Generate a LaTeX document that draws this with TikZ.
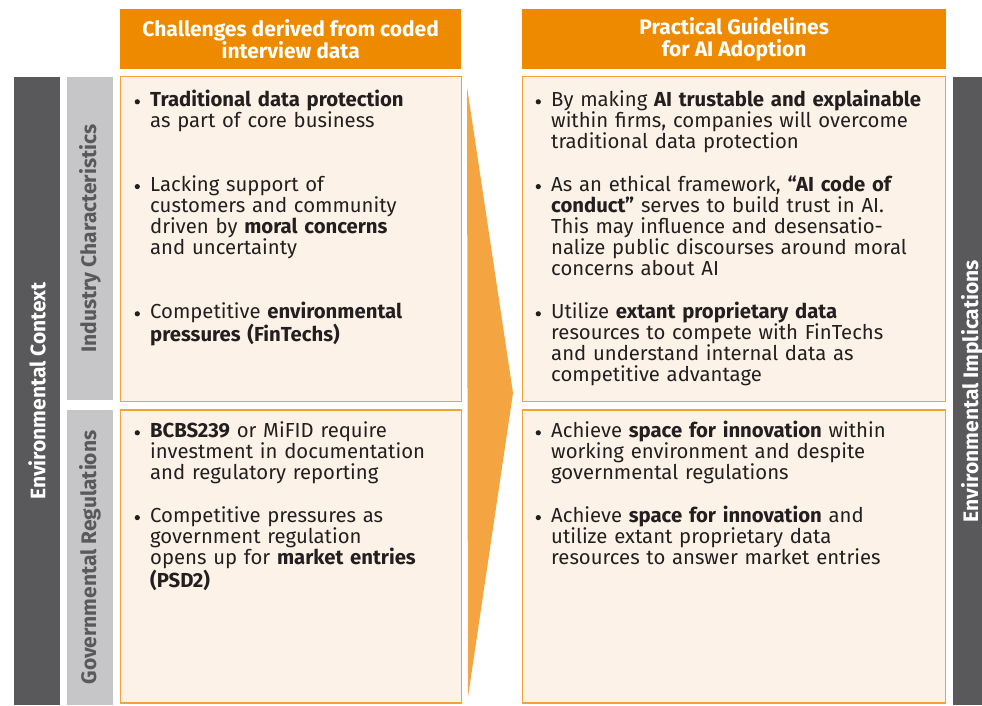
\documentclass[tikz,border=0pt]{standalone}
\usepackage{fontspec}
\setmainfont{Fira Sans}
\usetikzlibrary{positioning}

\definecolor{headorange}{HTML}{EE8A00}
\definecolor{boxline}{HTML}{F5A235}
\definecolor{boxfill}{HTML}{FDF2E7}
\definecolor{arroworange}{HTML}{F4A541}
\definecolor{darkbar}{HTML}{59595B}
\definecolor{lightbar}{HTML}{C6C6C8}
\definecolor{bodytext}{HTML}{231F20}

% bullet with hanging indent; lines inside a point are broken with \newline
\newcommand{\bpoint}{\par\hangindent=15.5pt\hangafter=1\noindent
  \makebox[15.5pt][l]{\tikz[baseline=-4.6pt]\fill[bodytext] (2.6pt,0) circle (2.6pt);}}
\newcommand{\gap}[1]{\par\vspace{#1}}

\tikzset{
  header/.style={
    fill=headorange,
    text=white,
    font=\fontsize{21}{21.5}\selectfont\bfseries,
    align=center,
    inner sep=0pt,
    minimum height=60pt,
    anchor=north west
  },
  infobox/.style={
    draw=boxline,
    line width=1.4pt,
    fill=boxfill,
    inner sep=0pt,
    anchor=south west
  },
  bullets/.style={
    text=bodytext,
    font=\fontsize{20.3}{21.2}\selectfont,
    align=left,
    text width=340pt,
    inner sep=0pt,
    anchor=north west
  },
  sidebar/.style={
    fill=darkbar,
    text=white,
    font=\fontsize{21}{21}\selectfont\bfseries,
    inner sep=0pt,
    rotate=90
  },
  subbar/.style={
    sidebar,
    fill=lightbar,
    text=darkbar
  }
}

\begin{document}
\begin{tikzpicture}[x=1pt,y=1pt]
  \useasboundingbox[fill=white] (0,0) rectangle (982,705);

  % column headers
  \node[header, minimum width=341pt] (hchal) at (120,696)
    {Challenges derived from coded\\interview data};
  \node[header, minimum width=424pt] (hguide) at (522,696)
    {Practical Guidelines\\for AI Adoption};

  % outer context bars
  \node[sidebar, minimum width=628pt, minimum height=46pt] (envctx) at (37,314)
    {Environmental Context};
  \node[sidebar, minimum width=628pt, minimum height=38pt] (envimp) at (972,314)
    {Environmental Implications};

  % inner context bars
  \node[subbar, minimum width=323pt, minimum height=46pt] (industry) at (90,466.5)
    {Industry Characteristics};
  \node[subbar, minimum width=295pt, minimum height=46pt] (regul) at (90,147.5)
    {Governmental Regulations};

  % the four content boxes
  \node[infobox, minimum width=341pt, minimum height=325pt] (chaltop) at (120,303) {};
  \node[infobox, minimum width=341pt, minimum height=293pt] (chalbot) at (120,1.5) {};
  \node[infobox, minimum width=423pt, minimum height=325pt] (guidetop) at (522,303) {};
  \node[infobox, minimum width=423pt, minimum height=293pt] (guidebot) at (522,1.5) {};

  % arrow between the columns
  \fill[arroworange] (467,618) -- (513,312) -- (468,8) -- cycle;

  \node[bullets] (tchaltop) at (134.5,620) {%
    \bpoint\textbf{Traditional data protection}\newline as part of core business
    \gap{42.4pt}
    \bpoint Lacking support of\newline customers and community\newline driven by \textbf{moral concerns}\newline and uncertainty
    \gap{42.4pt}
    \bpoint Competitive \textbf{environmental}\newline\textbf{pressures (FinTechs)}\par};

  \node[bullets] (tchalbot) at (134.5,289) {%
    \bpoint\textbf{BCBS239} or MiFID require\newline investment in documentation\newline and regulatory reporting
    \gap{21.2pt}
    \bpoint Competitive pressures as\newline government regulation\newline opens up for \textbf{market entries}\newline\textbf{(PSD2)}\par};

  \node[bullets, text width=410pt] (tguidetop) at (535.5,620) {%
    \bpoint By making \textbf{AI trustable and explainable}\newline within firms, companies will overcome\newline traditional data protection
    \gap{21.2pt}
    \bpoint As an ethical framework, \textbf{“AI code of}\newline\textbf{conduct”} serves to build trust in AI.\newline This may influence and desensatio-\newline nalize public discourses around moral\newline concerns about AI
    \gap{21.2pt}
    \bpoint Utilize \textbf{extant proprietary data}\newline resources to compete with FinTechs\newline and understand internal data as\newline competitive advantage\par};

  \node[bullets, text width=410pt] (tguidebot) at (535.5,289) {%
    \bpoint Achieve \textbf{space for innovation} within\newline working environment and despite\newline governmental regulations
    \gap{21.2pt}
    \bpoint Achieve \textbf{space for innovation} and\newline utilize extant proprietary data\newline resources to answer market entries\par};
\end{tikzpicture}
\end{document}
